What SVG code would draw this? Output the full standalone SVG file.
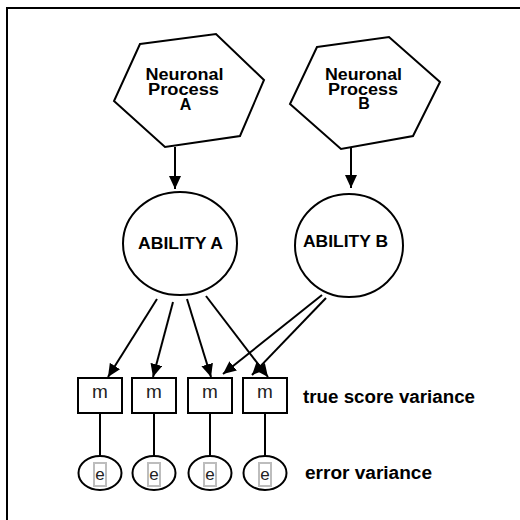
<svg xmlns="http://www.w3.org/2000/svg" width="520" height="520" viewBox="0 0 520 520">
<defs>
<marker id="ah" markerUnits="userSpaceOnUse" markerWidth="14" markerHeight="12" refX="13" refY="6" orient="auto">
<path d="M0,0 L13,6 L0,12 z" fill="#000"/>
</marker>
<style>
.sh{fill:#fff;stroke:#000;stroke-width:2}
.lbl{font-family:"Liberation Sans",Arial,sans-serif;font-weight:bold;fill:#000;text-anchor:middle}
.side{font-family:"Liberation Sans",Arial,sans-serif;font-weight:bold;font-size:18px;fill:#000}
.m{font-family:"Liberation Sans",Arial,sans-serif;font-size:19px;fill:#222;text-anchor:middle}
.e{font-family:"Liberation Sans",Arial,sans-serif;font-size:17px;fill:#222;text-anchor:middle}
.eb{fill:none;stroke:#bdbdbd;stroke-width:2}
.ln{stroke:#000;stroke-width:2;fill:none}
.ar{stroke:#000;stroke-width:2;fill:none;marker-end:url(#ah)}
</style>
</defs>
<rect x="0" y="0" width="520" height="520" fill="#fff"/>
<rect x="7" y="8" width="530" height="530" fill="none" stroke="#000" stroke-width="2"/>

<g id="connectors">
<line class="ar" x1="175" y1="147" x2="175" y2="189"/>
<line class="ar" x1="351" y1="148" x2="351" y2="188"/>
<line class="ar" x1="157" y1="299" x2="108" y2="377"/>
<line class="ar" x1="173" y1="302" x2="153" y2="377"/>
<line class="ar" x1="187" y1="299" x2="211" y2="377"/>
<line class="ar" x1="206" y1="296" x2="268" y2="377"/>
<line class="ar" x1="322" y1="295" x2="223" y2="374"/>
<line class="ar" x1="326" y1="298" x2="252" y2="375"/>
<line class="ln" x1="100" y1="413" x2="100" y2="456"/>
<line class="ln" x1="154" y1="413" x2="154" y2="456"/>
<line class="ln" x1="210" y1="413" x2="210" y2="456"/>
<line class="ln" x1="265" y1="413" x2="265" y2="456"/>
</g>

<g id="procA">
<polygon class="sh" points="140,44 216,34 264,80 240,136 165,147 114,101"/>
<text class="lbl" font-size="16" x="184.5" y="80" textLength="78" lengthAdjust="spacingAndGlyphs">Neuronal</text>
<text class="lbl" font-size="16" x="183.5" y="95" textLength="71" lengthAdjust="spacingAndGlyphs">Process</text>
<text class="lbl" font-size="16" x="185.5" y="110">A</text>
</g>
<g id="procB">
<polygon class="sh" points="317,47 389,37 440,82 413,136 341,149 290,104"/>
<text class="lbl" font-size="16" x="363.5" y="80" textLength="77" lengthAdjust="spacingAndGlyphs">Neuronal</text>
<text class="lbl" font-size="16" x="363" y="95" textLength="70" lengthAdjust="spacingAndGlyphs">Process</text>
<text class="lbl" font-size="16" x="364" y="109">B</text>
</g>

<g id="abilityA">
<ellipse class="sh" cx="180" cy="243.5" rx="57" ry="51.5"/>
<text class="lbl" font-size="17" x="180.5" y="249" textLength="85" lengthAdjust="spacingAndGlyphs">ABILITY A</text>
</g>
<g id="abilityB">
<ellipse class="sh" cx="349" cy="245.5" rx="54" ry="51.5"/>
<text class="lbl" font-size="17" x="345.5" y="247" textLength="85" lengthAdjust="spacingAndGlyphs">ABILITY B</text>
</g>

<g id="m1"><rect class="sh" x="78" y="378" width="44" height="35"/><text class="m" x="100" y="398">m</text></g>
<g id="m2"><rect class="sh" x="132" y="378" width="44" height="35"/><text class="m" x="154" y="398">m</text></g>
<g id="m3"><rect class="sh" x="188" y="378" width="44" height="35"/><text class="m" x="210" y="398">m</text></g>
<g id="m4"><rect class="sh" x="243" y="378" width="44" height="35"/><text class="m" x="265" y="398">m</text></g>

<g id="e1"><ellipse class="sh" cx="100" cy="473" rx="21.5" ry="17"/><rect class="eb" x="94" y="463" width="12" height="23"/><text class="e" x="100" y="480">e</text></g>
<g id="e2"><ellipse class="sh" cx="154" cy="473" rx="21.5" ry="17"/><rect class="eb" x="148" y="463" width="12" height="23"/><text class="e" x="154" y="480">e</text></g>
<g id="e3"><ellipse class="sh" cx="210" cy="473" rx="21.5" ry="17"/><rect class="eb" x="204" y="463" width="12" height="23"/><text class="e" x="210" y="480">e</text></g>
<g id="e4"><ellipse class="sh" cx="265" cy="473" rx="21.5" ry="17"/><rect class="eb" x="259" y="463" width="12" height="23"/><text class="e" x="265" y="480">e</text></g>

<text class="side" x="303" y="403" textLength="172" lengthAdjust="spacingAndGlyphs">true score variance</text>
<text class="side" x="305" y="479" textLength="127" lengthAdjust="spacingAndGlyphs">error variance</text>
</svg>
